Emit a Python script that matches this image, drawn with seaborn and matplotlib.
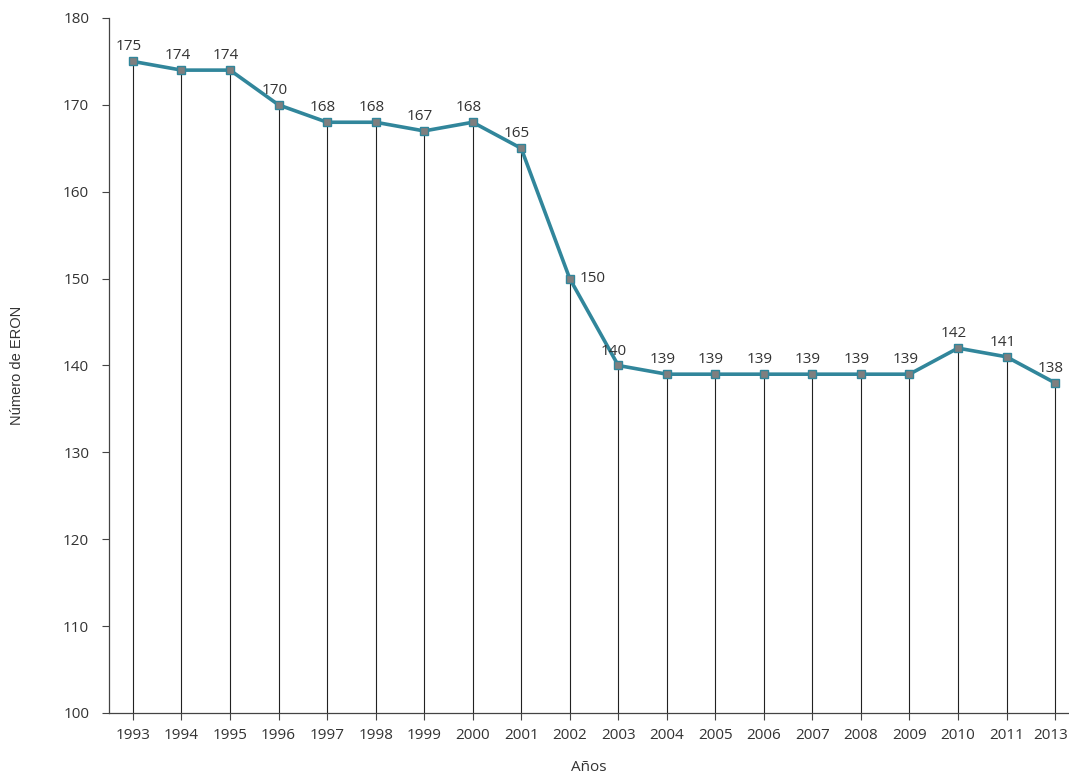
import matplotlib
matplotlib.use("Agg")
import matplotlib.pyplot as plt
import matplotlib.transforms as mtransforms
import seaborn as sns
import pandas as pd

years = ["1993", "1994", "1995", "1996", "1997", "1998", "1999", "2000", "2001", "2002",
         "2003", "2004", "2005", "2006", "2007", "2008", "2009", "2010", "2011", "2013"]
values = [175, 174, 174, 170, 168, 168, 167, 168, 165, 150,
          140, 139, 139, 139, 139, 139, 139, 142, 141, 138]

sns.set_theme(style="white")
plt.rcParams['font.family'] = ['Open Sans', 'DejaVu Sans']

df = pd.DataFrame({"pos": list(range(len(years))), "year": years, "value": values})

left_px = 108.7
step_px = 48.53
fig = plt.figure(figsize=(10.69, 7.76), dpi=100)
ax = fig.add_axes([left_px / 1069, 1 - 713 / 776, 1 - left_px / 1069, (713 - 18) / 776])

teal = "#31869B"
ax.vlines(df["pos"], 100, df["value"], colors="#222222", linewidth=0.8, zorder=1)
sns.lineplot(data=df, x="pos", y="value", ax=ax, color=teal, linewidth=2.6,
             marker="s", markersize=6, markerfacecolor="#7F7F7F",
             markeredgecolor=teal, markeredgewidth=1.0, zorder=3)

for p, v in zip(df["pos"], df["value"]):
    if v == 150:
        ax.annotate(str(v), (p, v), xytext=(7, 0), textcoords="offset points",
                    ha="left", va="center", fontsize=11, color="#333333")
    else:
        ax.annotate(str(v), (p, v), xytext=(-3, 5), textcoords="offset points",
                    ha="center", va="bottom", fontsize=11, color="#333333")

ax.set_xlim(-0.5, -0.5 + (1069 - left_px) / step_px)
ax.set_ylim(100, 180)
ax.set_yticks(range(100, 181, 10))
ax.set_xticks(df["pos"])
ax.set_xticklabels(years)
ax.tick_params(axis="both", direction="out", length=5, width=0.8, color="#444444",
               labelsize=11, labelcolor="#333333", bottom=True, left=True)
ax.tick_params(axis="y", pad=9)
ax.tick_params(axis="x", pad=6)

last = ax.get_xticklabels()[-1]
last.set_transform(last.get_transform() + mtransforms.ScaledTranslation(-4 / 100, 0, fig.dpi_scale_trans))

for s in ["top", "right"]:
    ax.spines[s].set_visible(False)
for s in ["left", "bottom"]:
    ax.spines[s].set_color("#444444")
    ax.spines[s].set_linewidth(0.9)

ax.set_xlabel("Años", fontsize=11, color="#333333", labelpad=12)
ax.set_ylabel("Número de ERON", fontsize=10.5, color="#333333", family=["Liberation Sans"], labelpad=28)

fig.savefig("out.png", dpi=100)
